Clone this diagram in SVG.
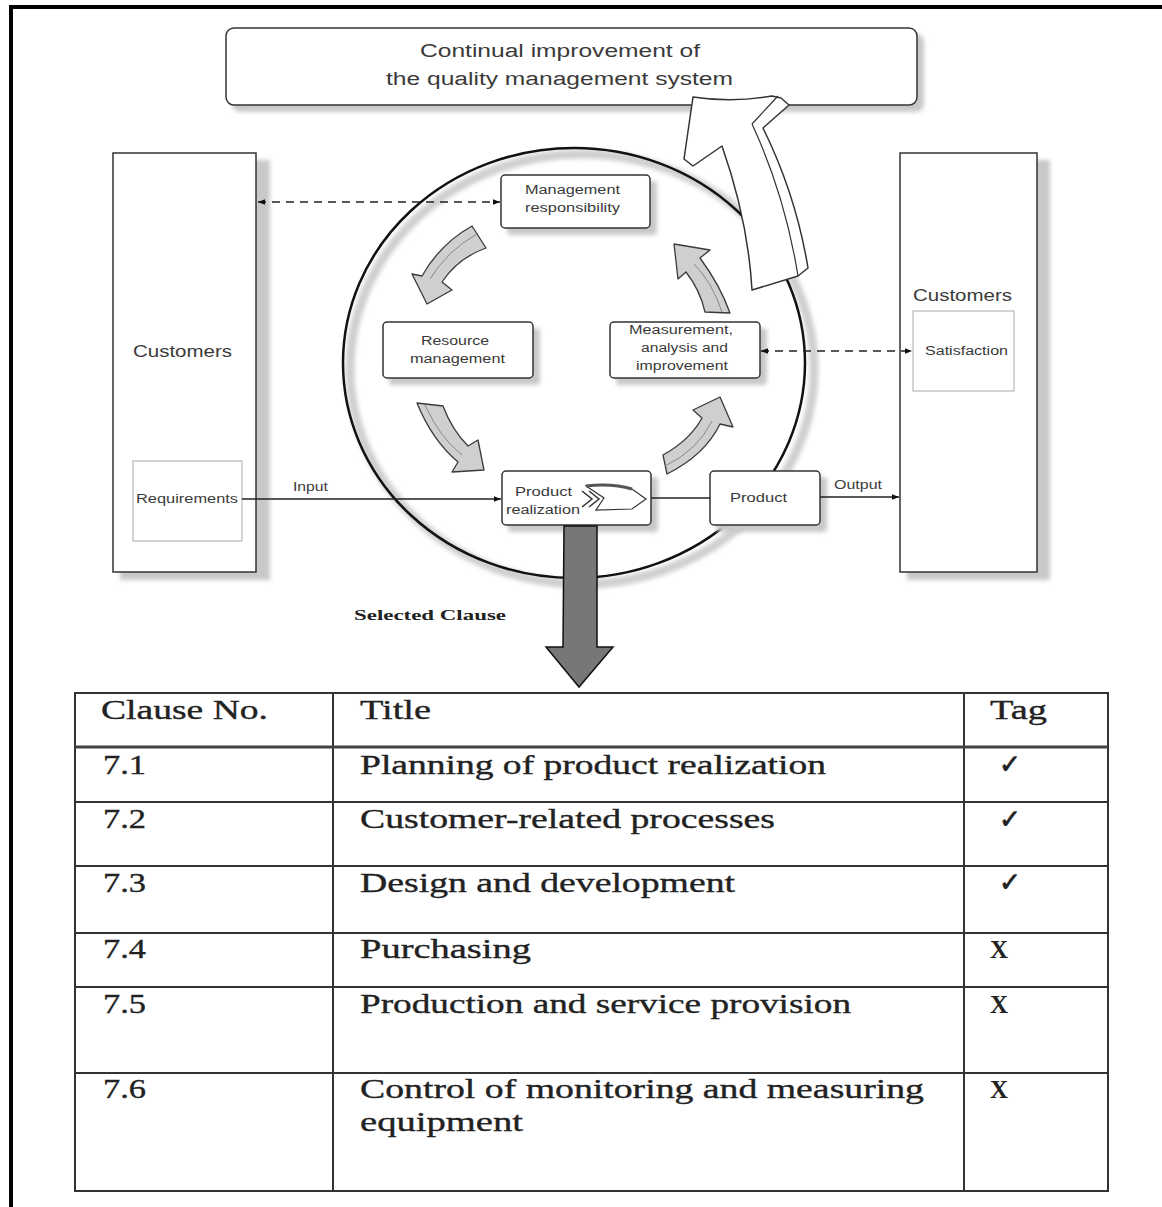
<svg xmlns="http://www.w3.org/2000/svg" width="1162" height="1207" viewBox="0 0 1162 1207">
<defs>
<style>
.box{fill:#fff;stroke:#333;stroke-width:1.5}
.sh{fill:#c8c8c8;filter:url(#blur)}
.lbl{font-family:"Liberation Sans",Arial,sans-serif;fill:#3a3a3a}
.sm{font-size:12px}
.tb{font-family:"Liberation Serif","Times New Roman",serif;font-size:27px;fill:#222;stroke:#222;stroke-width:0.35}
.ln{stroke:#333;stroke-width:2;fill:none}
.garr{fill:#cfcfcf;stroke:#3a3a3a;stroke-width:1.3;stroke-linejoin:round}
.dash{stroke:#222;stroke-width:1.5;stroke-dasharray:8 6;fill:none}
.solid{stroke:#222;stroke-width:1.3;fill:none}
</style>
<filter id="blur" x="-20%" y="-20%" width="140%" height="140%"><feGaussianBlur stdDeviation="2"/></filter>
<marker id="ah" viewBox="0 0 10 10" refX="10" refY="5" markerWidth="9" markerHeight="7" markerUnits="userSpaceOnUse" orient="auto-start-reverse"><path d="M0 1 L10 5 L0 9 Z" fill="#111"/></marker>
</defs>
<rect width="1162" height="1207" fill="#fff"/>
<path d="M11 1207 L11 7 L1162 7" fill="none" stroke="#000" stroke-width="4"/>

<g id="top-box">
<rect class="sh" x="232" y="34" width="692" height="78" rx="8"/>
<rect class="box" x="226" y="28" width="691" height="77" rx="8"/>
<text class="lbl" x="420" y="57" font-size="18" textLength="280" lengthAdjust="spacingAndGlyphs">Continual improvement of</text>
<text class="lbl" x="386" y="85" font-size="18" textLength="347" lengthAdjust="spacingAndGlyphs">the quality management system</text>
</g>

<g id="customers-left">
<rect class="sh" x="120" y="160" width="150" height="420"/>
<rect class="box" x="113" y="153" width="143" height="419"/>
<text class="lbl" x="133" y="357" font-size="16" textLength="99" lengthAdjust="spacingAndGlyphs">Customers</text>
<rect x="133" y="461" width="109" height="80" fill="#fff" stroke="#aaa" stroke-width="1"/>
<text class="lbl sm" x="136" y="503" textLength="102" lengthAdjust="spacingAndGlyphs">Requirements</text>
</g>

<g id="customers-right">
<rect class="sh" x="907" y="160" width="143" height="420"/>
<rect class="box" x="900" y="153" width="137" height="419"/>
<text class="lbl" x="913" y="301" font-size="16" textLength="99" lengthAdjust="spacingAndGlyphs">Customers</text>
<rect x="913" y="311" width="101" height="80" fill="#fff" stroke="#aaa" stroke-width="1"/>
<text class="lbl sm" x="925" y="355" textLength="83" lengthAdjust="spacingAndGlyphs">Satisfaction</text>
</g>

<g id="process-circle">
<ellipse cx="582" cy="369" rx="232" ry="215" fill="none" stroke="#cfcfcf" stroke-width="9" filter="url(#blur)"/>
<ellipse cx="574" cy="363" rx="231" ry="215" fill="none" stroke="#111" stroke-width="2.5"/>
</g>

<g id="improvement-arrow">
<path d="M693 97 Q732 103 772 96 L781 98 L789 105 L763 128 Q796 195 808 268 L798 276 L752 290 Q748 220 722 146 L693 166 L684 159 Z" fill="#fff" stroke="#333" stroke-width="1.5" stroke-linejoin="round"/>
<path d="M752 124 L778 96 M752 124 Q785 195 798 276" fill="none" stroke="#333" stroke-width="1.2"/>
</g>

<g id="cycle-arrows">
<path class="garr" d="M472 226 L486 248 Q458 258 442 282 L452 290 L427 304 L412 274 L422 276 Q440 244 472 226 Z"/>
<path d="M477 234 Q448 250 430 279" fill="none" stroke="#888" stroke-width="1"/>
<path class="garr" d="M417 403 L443 406 Q452 430 468 446 L478 440 L484 470 L452 472 L458 462 Q432 440 417 403 Z"/>
<path d="M425 405 Q440 438 462 455" fill="none" stroke="#888" stroke-width="1"/>
<path class="garr" d="M663 455 Q690 440 702 418 L693 410 L720 397 L733 427 L720 424 Q705 455 667 474 Z"/>
<path d="M665 466 Q698 450 712 421" fill="none" stroke="#888" stroke-width="1"/>
<path class="garr" d="M705 312 Q700 290 686 272 L678 279 L674 244 L710 250 L700 258 Q720 285 730 313 Z"/>
<path d="M722 312 Q712 282 694 264" fill="none" stroke="#888" stroke-width="1"/>
</g>

<g id="management-responsibility">
<rect class="sh" x="507" y="181" width="150" height="54" rx="4"/>
<rect class="box" x="501" y="175" width="149" height="53" rx="4"/>
<text class="lbl sm" x="525" y="194" textLength="95" lengthAdjust="spacingAndGlyphs">Management</text>
<text class="lbl sm" x="525" y="212" textLength="95" lengthAdjust="spacingAndGlyphs">responsibility</text>
</g>

<g id="resource-management">
<rect class="sh" x="389" y="328" width="151" height="57" rx="4"/>
<rect class="box" x="383" y="322" width="150" height="56" rx="4"/>
<text class="lbl sm" x="421" y="345" textLength="68" lengthAdjust="spacingAndGlyphs">Resource</text>
<text class="lbl sm" x="410" y="363" textLength="95" lengthAdjust="spacingAndGlyphs">management</text>
</g>

<g id="measurement">
<rect class="sh" x="616" y="328" width="151" height="57" rx="4"/>
<rect class="box" x="610" y="322" width="150" height="56" rx="4"/>
<text class="lbl sm" x="629" y="334" textLength="104" lengthAdjust="spacingAndGlyphs">Measurement,</text>
<text class="lbl sm" x="641" y="352" textLength="87" lengthAdjust="spacingAndGlyphs">analysis and</text>
<text class="lbl sm" x="636" y="370" textLength="92" lengthAdjust="spacingAndGlyphs">improvement</text>
</g>

<g id="product-realization">
<rect class="sh" x="508" y="477" width="150" height="55" rx="4"/>
<rect class="box" x="502" y="471" width="149" height="54" rx="4"/>
<text class="lbl sm" x="515" y="496" textLength="57" lengthAdjust="spacingAndGlyphs">Product</text>
<text class="lbl sm" x="506" y="514" textLength="74" lengthAdjust="spacingAndGlyphs">realization</text>
<path d="M586 486 Q612 483 632 489 L646 499 L632 509 L596 510 L604 498 Z" fill="#fff" stroke="#333" stroke-width="1.2"/>
<path d="M586 486 Q612 483 632 489" fill="none" stroke="#555" stroke-width="3"/>
<path d="M582 491 L592 499 L582 507 M589 491 L599 499 L589 507" fill="none" stroke="#333" stroke-width="1.5"/>
</g>

<g id="product">
<rect class="sh" x="716" y="477" width="111" height="55" rx="4"/>
<rect class="box" x="710" y="471" width="110" height="54" rx="4"/>
<text class="lbl sm" x="730" y="502" textLength="57" lengthAdjust="spacingAndGlyphs">Product</text>
</g>

<g id="connectors">
<line class="dash" x1="258" y1="202" x2="500" y2="202" marker-start="url(#ah)" marker-end="url(#ah)"/>
<line class="dash" x1="761" y1="351" x2="912" y2="351" marker-start="url(#ah)" marker-end="url(#ah)"/>
<line class="solid" x1="242" y1="499" x2="501" y2="499" marker-end="url(#ah)"/>
<line class="solid" x1="651" y1="498" x2="710" y2="498"/>
<line class="solid" x1="820" y1="497" x2="899" y2="497" marker-end="url(#ah)"/>
<text class="lbl sm" x="293" y="491" textLength="35" lengthAdjust="spacingAndGlyphs">Input</text>
<text class="lbl sm" x="834" y="489" textLength="48" lengthAdjust="spacingAndGlyphs">Output</text>
<path d="M564 526 L597 526 L597 647 L613 647 L579 687 L546 647 L563 647 Z" fill="#777" stroke="#111" stroke-width="1.5" stroke-linejoin="miter"/>
<text x="354" y="620" font-family="Liberation Serif,serif" font-weight="bold" font-size="15" fill="#222" textLength="152" lengthAdjust="spacingAndGlyphs">Selected Clause</text>
</g>

<g id="clause-table">
<rect class="ln" x="75" y="693" width="1033" height="498"/>
<line class="ln" x1="333" y1="693" x2="333" y2="1191"/>
<line class="ln" x1="964" y1="693" x2="964" y2="1191"/>
<line x1="75" y1="747" x2="1108" y2="747" stroke="#444" stroke-width="3"/>
<line class="ln" x1="75" y1="802" x2="1108" y2="802"/>
<line class="ln" x1="75" y1="866" x2="1108" y2="866"/>
<line class="ln" x1="75" y1="933" x2="1108" y2="933"/>
<line class="ln" x1="75" y1="987" x2="1108" y2="987"/>
<line class="ln" x1="75" y1="1073" x2="1108" y2="1073"/>
<text class="tb" x="101" y="719" textLength="167" lengthAdjust="spacingAndGlyphs">Clause No.</text>
<text class="tb" x="360" y="719" textLength="71" lengthAdjust="spacingAndGlyphs">Title</text>
<text class="tb" x="990" y="719" textLength="57" lengthAdjust="spacingAndGlyphs">Tag</text>
<text class="tb" x="103" y="774" textLength="43" lengthAdjust="spacingAndGlyphs">7.1</text>
<text class="tb" x="360" y="774" textLength="466" lengthAdjust="spacingAndGlyphs">Planning of product realization</text>
<text class="tb" x="103" y="828" textLength="43" lengthAdjust="spacingAndGlyphs">7.2</text>
<text class="tb" x="360" y="828" textLength="415" lengthAdjust="spacingAndGlyphs">Customer-related processes</text>
<text class="tb" x="103" y="892" textLength="43" lengthAdjust="spacingAndGlyphs">7.3</text>
<text class="tb" x="360" y="892" textLength="375" lengthAdjust="spacingAndGlyphs">Design and development</text>
<text class="tb" x="103" y="958" textLength="43" lengthAdjust="spacingAndGlyphs">7.4</text>
<text class="tb" x="360" y="958" textLength="171" lengthAdjust="spacingAndGlyphs">Purchasing</text>
<text class="tb" x="103" y="1013" textLength="43" lengthAdjust="spacingAndGlyphs">7.5</text>
<text class="tb" x="360" y="1013" textLength="491" lengthAdjust="spacingAndGlyphs">Production and service provision</text>
<text class="tb" x="103" y="1098" textLength="43" lengthAdjust="spacingAndGlyphs">7.6</text>
<text class="tb" x="360" y="1098" textLength="564" lengthAdjust="spacingAndGlyphs">Control of monitoring and measuring</text>
<text class="tb" x="360" y="1131" textLength="163" lengthAdjust="spacingAndGlyphs">equipment</text>
<g font-family="DejaVu Sans,sans-serif" font-size="26" fill="#222" stroke="#222" stroke-width="0.8">
<text x="999" y="773">✓</text>
<text x="999" y="828">✓</text>
<text x="999" y="891">✓</text>
</g>
<g font-family="Liberation Serif,serif" font-weight="bold" font-size="25" fill="#222">
<text x="990" y="958">X</text>
<text x="990" y="1013">X</text>
<text x="990" y="1098">X</text>
</g>
</g>
</svg>
